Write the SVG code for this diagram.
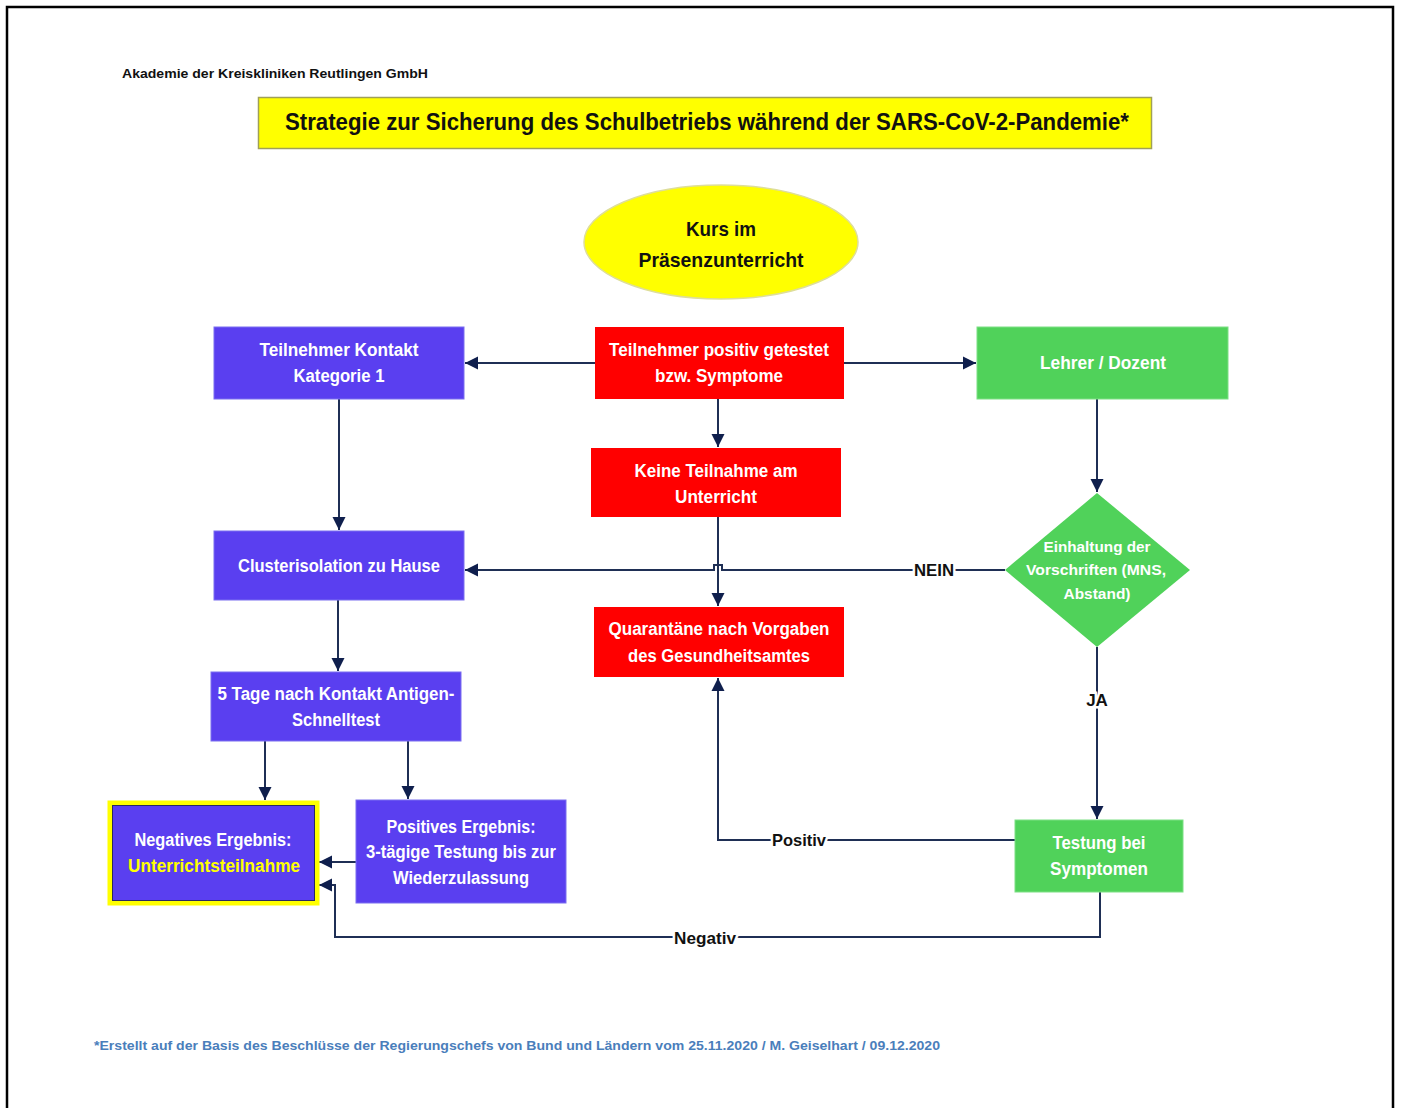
<svg xmlns="http://www.w3.org/2000/svg" width="1403" height="1108" viewBox="0 0 1403 1108">
<style>
text{font-family:"Liberation Sans",Arial,sans-serif;font-weight:bold;}
.n{font-size:18px;fill:#ffffff;text-anchor:middle;}
.d{font-size:15.5px;fill:#ffffff;text-anchor:middle;}
.lbl{font-size:17px;fill:#111111;text-anchor:middle;stroke:#ffffff;stroke-width:5px;paint-order:stroke;}
.red{fill:#ff0000;}
.blue{fill:#5a3ff0;stroke:#7b6ef0;stroke-width:1;}
.green{fill:#50d25a;stroke:#7ce084;stroke-width:1;}
.c{fill:none;stroke:#1f2f55;stroke-width:2;}
.a{marker-end:url(#arr);}
</style>
<defs>
<marker id="arr" markerUnits="userSpaceOnUse" markerWidth="16" markerHeight="16" refX="13" refY="8" orient="auto">
<path d="M0,1.5 L13,8 L0,14.5 z" fill="#0f1f4d"/>
</marker>
</defs>
<rect width="1403" height="1108" fill="#ffffff"/>
<path d="M7,1108 V7 H1393 V1108" fill="none" stroke="#000000" stroke-width="2.5"/>
<text x="122" y="78" font-size="13" fill="#111111" textLength="306" lengthAdjust="spacingAndGlyphs">Akademie der Kreiskliniken Reutlingen GmbH</text>
<g id="title">
<rect x="258.5" y="97.5" width="893" height="51" fill="#ffff00" stroke="#a0a058" stroke-width="1.5"/>
<text x="707" y="130" font-size="24" fill="#111111" text-anchor="middle" textLength="844" lengthAdjust="spacingAndGlyphs">Strategie zur Sicherung des Schulbetriebs während der SARS-CoV-2-Pandemie*</text>
</g>
<g id="connectors">
<path class="c a" d="M595,363 H465"/>
<path class="c a" d="M844,363 H976"/>
<path class="c a" d="M718,399 V447"/>
<path class="c a" d="M718,517 V606"/>
<path class="c a" d="M339,399 V530"/>
<path class="c a" d="M1097,399 V492"/>
<path class="c a" d="M1005,570 H722 V565 H714 V570 H465"/>
<path class="c a" d="M338,600 V671"/>
<path class="c a" d="M265,741 V800"/>
<path class="c a" d="M408,741 V799"/>
<path class="c a" d="M356,862 H319"/>
<path class="c a" d="M1097,647 V819"/>
<path class="c a" d="M1015,840 H718 V678"/>
<path class="c a" d="M1100,892 V937 H335 V885 H319"/>
<text class="lbl" x="934" y="576" textLength="40" lengthAdjust="spacingAndGlyphs">NEIN</text>
<text class="lbl" x="1097" y="706">JA</text>
<text class="lbl" x="799" y="846" textLength="54" lengthAdjust="spacingAndGlyphs">Positiv</text>
<text class="lbl" x="705" y="944" textLength="62" lengthAdjust="spacingAndGlyphs">Negativ</text>
</g>
<g id="start">
<ellipse cx="721" cy="242" rx="137" ry="57" fill="#ffff00" stroke="#dede9a" stroke-width="1.5"/>
<text x="721" y="236" font-size="21" fill="#111111" text-anchor="middle" textLength="70" lengthAdjust="spacingAndGlyphs">Kurs im</text>
<text x="721" y="267" font-size="21" fill="#111111" text-anchor="middle" textLength="165" lengthAdjust="spacingAndGlyphs">Präsenzunterricht</text>
</g>
<g id="positiv">
<rect class="red" x="595" y="327" width="249" height="72"/>
<text class="n" x="719" y="356" textLength="220" lengthAdjust="spacingAndGlyphs">Teilnehmer positiv getestet</text>
<text class="n" x="719" y="382" textLength="128" lengthAdjust="spacingAndGlyphs">bzw. Symptome</text>
</g>
<g id="kontakt">
<rect class="blue" x="214" y="327" width="250" height="72"/>
<text class="n" x="339" y="356" textLength="159" lengthAdjust="spacingAndGlyphs">Teilnehmer Kontakt</text>
<text class="n" x="339" y="382" textLength="91" lengthAdjust="spacingAndGlyphs">Kategorie 1</text>
</g>
<g id="lehrer">
<rect class="green" x="977" y="327" width="251" height="72"/>
<text class="n" x="1103" y="369" textLength="126" lengthAdjust="spacingAndGlyphs">Lehrer / Dozent</text>
</g>
<g id="keine">
<rect class="red" x="591" y="448" width="250" height="69"/>
<text class="n" x="716" y="477" textLength="163" lengthAdjust="spacingAndGlyphs">Keine Teilnahme am</text>
<text class="n" x="716" y="503" textLength="82" lengthAdjust="spacingAndGlyphs">Unterricht</text>
</g>
<g id="cluster">
<rect class="blue" x="214" y="531" width="250" height="69"/>
<text class="n" x="339" y="572" textLength="202" lengthAdjust="spacingAndGlyphs">Clusterisolation zu Hause</text>
</g>
<g id="einhaltung">
<polygon points="1097,493 1190,570 1097,647 1005,570" fill="#50d25a"/>
<text class="d" x="1097" y="552" textLength="107" lengthAdjust="spacingAndGlyphs">Einhaltung der</text>
<text class="d" x="1096" y="575" textLength="140" lengthAdjust="spacingAndGlyphs">Vorschriften (MNS,</text>
<text class="d" x="1097" y="599" textLength="67" lengthAdjust="spacingAndGlyphs">Abstand)</text>
</g>
<g id="quarantaene">
<rect class="red" x="594" y="607" width="250" height="70"/>
<text class="n" x="719" y="635" textLength="221" lengthAdjust="spacingAndGlyphs">Quarantäne nach Vorgaben</text>
<text class="n" x="719" y="662" textLength="182" lengthAdjust="spacingAndGlyphs">des Gesundheitsamtes</text>
</g>
<g id="schnelltest">
<rect class="blue" x="211" y="672" width="250" height="69"/>
<text class="n" x="336" y="700" textLength="237" lengthAdjust="spacingAndGlyphs">5 Tage nach Kontakt Antigen-</text>
<text class="n" x="336" y="726" textLength="88" lengthAdjust="spacingAndGlyphs">Schnelltest</text>
</g>
<g id="negativ">
<rect x="110" y="803" width="207" height="100" fill="#5a3ff0" stroke="#ffff00" stroke-width="5"/>
<rect x="112.5" y="805.5" width="202" height="95" fill="none" stroke="#2a2a60" stroke-width="1"/>
<text class="n" x="213" y="846" textLength="157" lengthAdjust="spacingAndGlyphs">Negatives Ergebnis:</text>
<text class="n" x="214" y="872" style="fill:#ffff00" textLength="172" lengthAdjust="spacingAndGlyphs">Unterrichtsteilnahme</text>
</g>
<g id="positives">
<rect class="blue" x="356" y="800" width="210" height="103"/>
<text class="n" x="461" y="833" textLength="149" lengthAdjust="spacingAndGlyphs">Positives Ergebnis:</text>
<text class="n" x="461" y="858" textLength="190" lengthAdjust="spacingAndGlyphs">3-tägige Testung bis zur</text>
<text class="n" x="461" y="884" textLength="136" lengthAdjust="spacingAndGlyphs">Wiederzulassung</text>
</g>
<g id="testung">
<rect class="green" x="1015" y="820" width="168" height="72"/>
<text class="n" x="1099" y="849" textLength="93" lengthAdjust="spacingAndGlyphs">Testung bei</text>
<text class="n" x="1099" y="875" textLength="98" lengthAdjust="spacingAndGlyphs">Symptomen</text>
</g>
<text x="94" y="1050" font-size="13" fill="#4a7ebb" textLength="846" lengthAdjust="spacingAndGlyphs">*Erstellt auf der Basis des Beschlüsse der Regierungschefs von Bund und Ländern vom 25.11.2020 / M. Geiselhart / 09.12.2020</text>
</svg>
